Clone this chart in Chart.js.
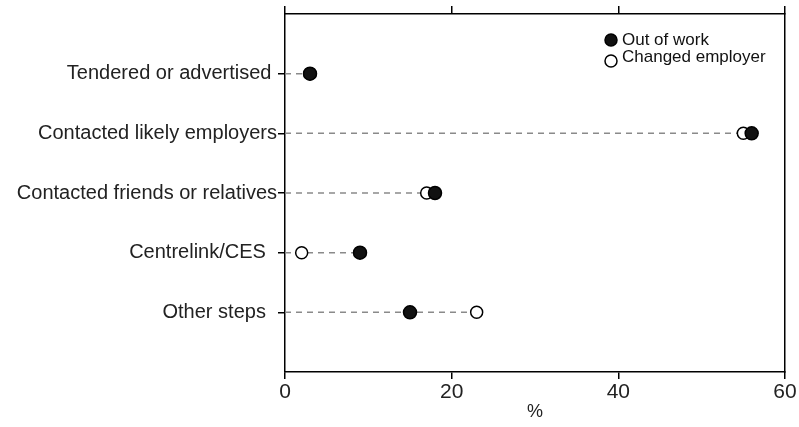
<!DOCTYPE html>
<html>
<head>
<meta charset="utf-8">
<script src="https://cdn.jsdelivr.net/npm/chart.js@4.4.1/dist/chart.umd.min.js"></script>
<style>
  html, body { margin: 0; padding: 0; background: #fff; }
  #wrap { width: 799px; height: 427px; }
</style>
</head>
<body>
<div id="wrap"><canvas id="chart"></canvas></div>
<script>
// steps taken to find work, % of persons
const steps = ['Tendered or advertised ', 'Contacted likely employers', 'Contacted friends or relatives', 'Centrelink/CES  ', 'Other steps  '];
const outOfWork = [3, 56, 18, 9, 15];
const changedEmployer = [3, 55, 17, 2, 23];
const xTicks = [0, 20, 40, 60];

const FONT = "'Liberation Sans', Arial, sans-serif";

// dashed guide from 0 to the larger of the two values on each row
const guideLines = {
	id: 'guideLines',
	beforeDatasetsDraw(chart) {
		const ctx = chart.ctx;
		const xs = chart.scales.x, ys = chart.scales.y;
		ctx.save();
		ctx.strokeStyle = '#8a8a8a';
		ctx.lineWidth = 1.5;
		ctx.setLineDash([6, 5]);
		steps.forEach((s, i) => {
			const y = ys.getPixelForValue(i + 1);
			ctx.beginPath();
			ctx.moveTo(xs.getPixelForValue(0), y);
			ctx.lineTo(xs.getPixelForValue(Math.max(outOfWork[i], changedEmployer[i])), y);
			ctx.stroke();
		});
		ctx.restore();
	}
};

// legend sits inside the plot, top right
const innerLegend = {
	id: 'innerLegend',
	afterDraw(chart) {
		const ctx = chart.ctx;
		const items = chart.data.datasets;
		ctx.save();
		ctx.font = '17px ' + FONT;
		ctx.textBaseline = 'middle';
		items.forEach((d, i) => {
			const cx = 611, cy = 40 + i * 21;
			ctx.beginPath();
			ctx.arc(cx, cy, 6, 0, Math.PI * 2);
			ctx.fillStyle = d.backgroundColor;
			ctx.fill();
			ctx.lineWidth = 1.5;
			ctx.strokeStyle = '#000';
			ctx.stroke();
			ctx.fillStyle = '#111';
			ctx.fillText(d.label, cx + 11, cy - (i ? 4 : 0));
		});
		ctx.restore();
	}
};

new Chart(document.getElementById('chart'), {
	type: 'scatter',
	data: {
		datasets: [{
			label: 'Out of work',
			data: outOfWork.map((v, i) => ({x: v, y: i + 1})),
			backgroundColor: '#111',
			borderColor: '#000',
			borderWidth: 1.5,
			pointRadius: 6.5,
			pointHoverRadius: 6.5
		}, {
			label: 'Changed employer',
			data: changedEmployer.map((v, i) => ({x: v, y: i + 1})),
			backgroundColor: '#fff',
			borderColor: '#000',
			borderWidth: 1.5,
			pointRadius: 6,
			pointHoverRadius: 6
		}]
	},
	options: {
		responsive: true,
		maintainAspectRatio: false,
		animation: false,
		layout: { padding: { left: 0, right: 14, top: 0, bottom: 0 } },
		plugins: {
			legend: { display: false },
			tooltip: { enabled: false }
		},
		scales: {
			x: {
				type: 'linear',
				position: 'bottom',
				min: 0,
				max: 60,
				afterBuildTicks: scale => { scale.ticks = xTicks.map(v => ({value: v})); },
				ticks: { color: '#222', font: { family: FONT, size: 21 }, padding: 1 },
				grid: { drawOnChartArea: false, tickLength: 7, color: '#000', lineWidth: 1.5 },
				border: { color: '#000', width: 1.5 },
				title: { display: true, text: '%', color: '#222', font: { family: FONT, size: 18 }, padding: { top: 0 } },
				afterFit: scale => { scale.height = 55; }
			},
			x2: {
				type: 'linear',
				position: 'top',
				min: 0,
				max: 60,
				afterBuildTicks: scale => { scale.ticks = xTicks.map(v => ({value: v})); },
				ticks: { display: false },
				grid: { drawOnChartArea: false, tickLength: 8, color: '#000', lineWidth: 1.5 },
				border: { color: '#000', width: 1.5 },
				afterFit: scale => { scale.height = 14; }
			},
			y: {
				type: 'linear',
				reverse: true,
				min: 0,
				max: 6,
				afterBuildTicks: scale => { scale.ticks = steps.map((s, i) => ({value: i + 1})); },
				ticks: {
					color: '#222',
					font: { family: FONT, size: 20 },
					padding: 1,
					autoSkip: false,
					callback: v => steps[v - 1]
				},
				grid: { drawOnChartArea: false, tickLength: 7, color: '#000', lineWidth: 1.5 },
				border: { color: '#000', width: 1.5 },
				afterFit: scale => { scale.width = 285; }
			},
			y2: {
				type: 'linear',
				position: 'right',
				min: 0,
				max: 6,
				ticks: { display: false },
				grid: { display: false },
				border: { color: '#000', width: 1.5 },
				afterFit: scale => { scale.width = 0; }
			}
		}
	},
	plugins: [guideLines, innerLegend]
});
</script>
</body>
</html>
